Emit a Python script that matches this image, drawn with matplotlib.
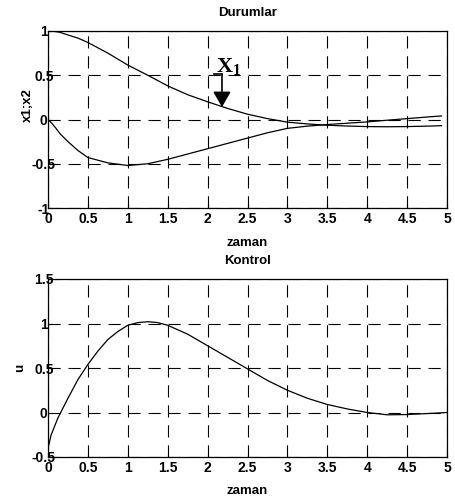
import matplotlib
matplotlib.use("Agg")
import matplotlib.pyplot as plt

# State trajectories
t_states = [0, 0.05, 0.1, 0.15, 0.25, 0.375, 0.5, 0.75, 1.0, 1.25, 1.5, 1.75, 2.0,
            2.25, 2.5, 2.75, 3.0, 3.25, 3.5, 3.75, 4.0, 4.25, 4.5, 4.75, 4.93]
x1 = [1.0, 0.998, 0.993, 0.985, 0.955, 0.92, 0.87, 0.75, 0.615, 0.5, 0.38, 0.28, 0.2,
      0.125, 0.06, 0.01, -0.03, -0.05, -0.065, -0.074, -0.08, -0.082, -0.08, -0.075, -0.07]
x2 = [0.0, -0.045, -0.1, -0.16, -0.25, -0.35, -0.43, -0.49, -0.52, -0.5, -0.45, -0.39,
      -0.33, -0.27, -0.21, -0.15, -0.1, -0.075, -0.057, -0.042, -0.027, -0.008, 0.01,
      0.028, 0.04]

# Control signal
t_ctrl = [0, 0.04, 0.08, 0.125, 0.25, 0.375, 0.5, 0.625, 0.75, 0.875, 1.0, 1.125, 1.25,
          1.375, 1.5, 1.75, 2.0, 2.25, 2.5, 2.75, 3.0, 3.25, 3.5, 3.75, 4.0, 4.25, 4.5,
          4.75, 5.0]
u = [-0.4, -0.25, -0.16, -0.06, 0.16, 0.37, 0.54, 0.69, 0.82, 0.91, 0.98, 1.01, 1.02,
     1.01, 0.98, 0.88, 0.75, 0.62, 0.49, 0.36, 0.25, 0.16, 0.09, 0.04, 0.0, -0.026,
     -0.023, -0.012, 0.0]

x_ticks = [0, 0.5, 1, 1.5, 2, 2.5, 3, 3.5, 4, 4.5, 5]
x_tick_labels = ["0", "0.5", "1", "1.5", "2", "2.5", "3", "3.5", "4", "4.5", "5"]
top_y_ticks = [-1, -0.5, 0, 0.5, 1]
top_y_labels = ["-1", "-0.5", "0", "0.5", "1"]
bot_y_ticks = [-0.5, 0, 0.5, 1, 1.5]
bot_y_labels = ["-0.5", "0", "0.5", "1", "1.5"]

plt.rcParams["font.family"] = ["Liberation Sans", "DejaVu Sans"]
plt.rcParams["mathtext.fontset"] = "custom"
plt.rcParams["mathtext.bf"] = "Liberation Serif:bold"
plt.rcParams["mathtext.rm"] = "Liberation Serif"

fig = plt.figure(figsize=(4.55, 5.0), dpi=100)
ax1 = fig.add_axes([0.1055, 0.584, 0.877, 0.354])
ax2 = fig.add_axes([0.1055, 0.086, 0.877, 0.356])


def style(ax, yticks, ylabels):
    ax.set_xlim(0, 5)
    ax.set_xticks(x_ticks)
    ax.set_xticklabels(x_tick_labels, fontweight="bold")
    ax.set_yticks(yticks)
    ax.set_yticklabels(ylabels, fontweight="bold", ha="center")
    ax.set_ylim(yticks[0], yticks[-1])
    ax.grid(True, color="black", linestyle=(0, (11, 7)), linewidth=0.8)
    ax.tick_params(direction="in", length=3, width=0.8, labelsize=10, colors="black")
    ax.tick_params(axis="y", pad=3)
    ax.tick_params(axis="x", pad=3)
    for s in ax.spines.values():
        s.set_linewidth(0.9)
        s.set_color("black")


ax1.plot(t_states, x1, color="black", linewidth=0.9)
ax1.plot(t_states, x2, color="black", linewidth=0.9)
style(ax1, top_y_ticks, top_y_labels)
ax1.set_title("Durumlar", fontsize=9.5, fontweight="bold", pad=11)
ax1.set_xlabel("zaman", fontsize=9.5, fontweight="bold", labelpad=8)
ax1.set_ylabel("x1;x2", fontsize=9.5, fontweight="bold")
ax1.yaxis.set_label_coords(-0.035, 0.58)
ax1.annotate("", xy=(2.18, 0.14), xytext=(2.18, 0.51),
             arrowprops=dict(arrowstyle="-|>,head_length=0.47,head_width=0.27",
                             color="black", lw=1.2, mutation_scale=20,
                             shrinkA=0, shrinkB=0))
ax1.plot([2.08, 2.18], [0.51, 0.51], color="black", linewidth=1.2)
ax1.text(2.1, 0.54, r"$\mathbf{X_1}$", fontsize=16, ha="left", va="baseline")

ax2.plot(t_ctrl, u, color="black", linewidth=0.9)
style(ax2, bot_y_ticks, bot_y_labels)
ax2.set_title("Kontrol", fontsize=9.5, fontweight="bold", pad=10.5)
ax2.set_xlabel("zaman", fontsize=9.5, fontweight="bold", labelpad=7)
ax2.set_ylabel("u", fontsize=9.5, fontweight="bold")
ax2.yaxis.set_label_coords(-0.055, 0.5)

fig.savefig("out.png", dpi=100, facecolor="white")
